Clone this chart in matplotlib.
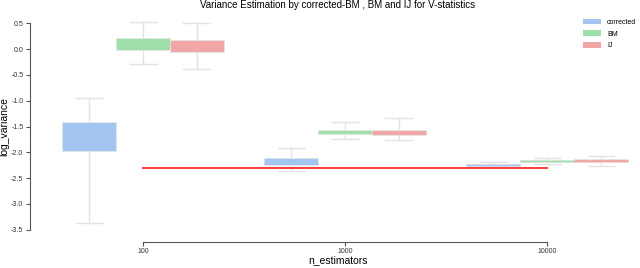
import numpy as np
import matplotlib
matplotlib.use('Agg')
import matplotlib.pyplot as plt
from matplotlib.patches import Patch

plt.rcParams['font.family'] = ['Liberation Sans', 'DejaVu Sans']

# categories and methods
n_estimators = ['100', '1000', '10000']
methods = ['corrected', 'BM', 'IJ']
colors = ['#a2c6f1', '#9fe0aa', '#f0a7a5']

# box statistics per method (one value per n_estimators)
corrected_whislo = [-3.37, -2.36, -2.28]
corrected_q1 = [-1.97, -2.24, -2.26]
corrected_med = [-1.72, -2.20, -2.24]
corrected_q3 = [-1.41, -2.10, -2.22]
corrected_whishi = [-0.94, -1.92, -2.19]

bm_whislo = [-0.29, -1.75, -2.23]
bm_q1 = [-0.02, -1.64, -2.18]
bm_med = [0.12, -1.61, -2.16]
bm_q3 = [0.21, -1.57, -2.14]
bm_whishi = [0.52, -1.41, -2.10]

ij_whislo = [-0.38, -1.77, -2.26]
ij_q1 = [-0.06, -1.66, -2.19]
ij_med = [0.06, -1.62, -2.16]
ij_q3 = [0.17, -1.57, -2.13]
ij_whishi = [0.50, -1.34, -2.07]

# reference (true) log variance
true_value = [-2.30, -2.30, -2.30]

stats_all = [
    (corrected_whislo, corrected_q1, corrected_med, corrected_q3, corrected_whishi),
    (bm_whislo, bm_q1, bm_med, bm_q3, bm_whishi),
    (ij_whislo, ij_q1, ij_med, ij_q3, ij_whishi),
]

fig = plt.figure(figsize=(6.4, 2.68), dpi=100)
ax = fig.add_axes([40 / 640, 1 - 235 / 268, 596 / 640, 217 / 268])

# spines first (set_position resets the ticks)
for s in ['top', 'right']:
    ax.spines[s].set_visible(False)
ax.spines['left'].set_position(('outward', 7))
ax.spines['bottom'].set_position(('outward', 5))

width = 0.8 / len(methods)
for m, (lo, q1, med, q3, hi) in enumerate(stats_all):
    stats = []
    for i in range(len(n_estimators)):
        stats.append(dict(whislo=lo[i], q1=q1[i], med=med[i], q3=q3[i],
                          whishi=hi[i], fliers=[]))
    pos = np.arange(len(n_estimators)) - 0.4 + width * (m + 0.5)
    ax.bxp(stats, positions=pos, widths=width, patch_artist=True,
           showfliers=False, manage_ticks=False,
           boxprops=dict(facecolor=colors[m], edgecolor='#e6e6e6', linewidth=0.6),
           medianprops=dict(color=colors[m], linewidth=1.0, alpha=0.9),
           whiskerprops=dict(color='#e3e3e3', linewidth=1.0),
           capprops=dict(color='#e3e3e3', linewidth=1.0))

ax.plot(np.arange(len(n_estimators)), true_value, color='#ff2a2a', linewidth=1.3)

ax.set_xlim(-0.51, 2.44)
ax.set_ylim(-3.6, 0.6)
ax.set_xticks(np.arange(len(n_estimators)))
ax.set_xticklabels(n_estimators)
ax.set_yticks([0.5, 0.0, -0.5, -1.0, -1.5, -2.0, -2.5, -3.0, -3.5])
ax.set_yticklabels(['0.5', '0.0', '-0.5', '-1.0', '-1.5', '-2.0', '-2.5', '-3.0', '-3.5'])

ax.spines['left'].set_bounds(-3.5, 0.5)
ax.spines['bottom'].set_bounds(0, 2)
for s in ['left', 'bottom']:
    ax.spines[s].set_color('#555555')
    ax.spines[s].set_linewidth(0.8)
ax.tick_params(colors='#555555', length=3, width=0.8, labelcolor='#333333',
               labelsize=5, pad=2)
ax.tick_params(axis='x', pad=1.5)

ax.set_xlabel('n_estimators', fontsize=7.5, labelpad=0)
ax.set_ylabel('log_variance', fontsize=7.5, labelpad=1)
ax.set_title('Variance Estimation by corrected-BM , BM and IJ for V-statistics',
             fontsize=7, pad=7)

handles = [Patch(facecolor=c, edgecolor='none') for c in colors]
ax.legend(handles, methods, loc='upper right', bbox_to_anchor=(1.005, 1.01),
          borderaxespad=0, frameon=False, fontsize=5, handlelength=2.5,
          handleheight=0.9, labelspacing=0.65, handletextpad=0.9)

fig.savefig('out.png', dpi=100)
